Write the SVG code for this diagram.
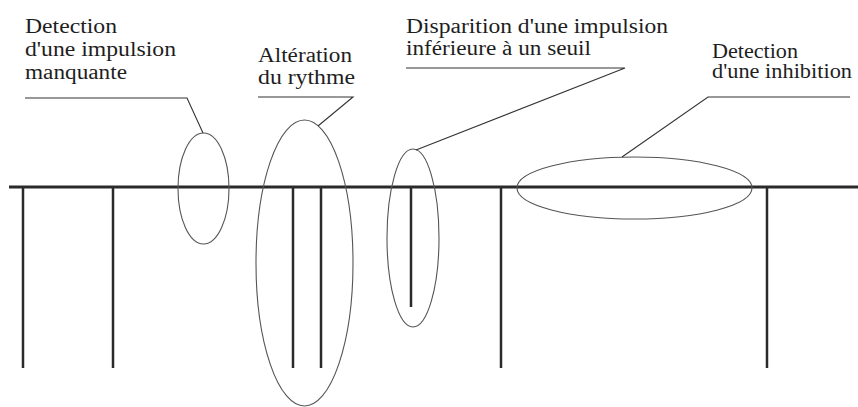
<svg xmlns="http://www.w3.org/2000/svg" width="858" height="407" viewBox="0 0 858 407">
  <style>
    .lbl { font-family: 'Liberation Serif', 'DejaVu Serif', serif; font-size: 20px; fill: #1e1e1e; }
    .axis { stroke: #2a2a2a; stroke-width: 3; fill: none; }
    .pulse { stroke: #2a2a2a; stroke-width: 2.5; fill: none; }
    .ring { stroke: #555; stroke-width: 1.1; fill: none; }
    .lead { stroke: #333; stroke-width: 1.1; fill: none; }
  </style>
  <rect width="858" height="407" fill="#ffffff"/>

  <g id="pulse-train">
    <line class="axis" x1="9" y1="187" x2="858" y2="187"/>
    <line class="pulse" x1="23" y1="187" x2="23" y2="368"/>
    <line class="pulse" x1="113" y1="187" x2="113" y2="368"/>
    <line class="pulse" x1="293" y1="187" x2="293" y2="368"/>
    <line class="pulse" x1="321" y1="187" x2="321" y2="368"/>
    <line class="pulse" x1="411" y1="187" x2="411" y2="307"/>
    <line class="pulse" x1="501" y1="187" x2="501" y2="368"/>
    <line class="pulse" x1="767" y1="187" x2="767" y2="368"/>
  </g>

  <g id="ellipse-missing">
    <ellipse class="ring" cx="203.5" cy="188.5" rx="25.5" ry="55.5"/>
  </g>
  <g id="ellipse-rhythm">
    <ellipse class="ring" cx="304.5" cy="263" rx="48.5" ry="143"/>
  </g>
  <g id="ellipse-threshold">
    <ellipse class="ring" cx="413" cy="238" rx="26" ry="89"/>
  </g>
  <g id="ellipse-inhibition">
    <ellipse class="ring" cx="634.5" cy="188" rx="117.5" ry="31"/>
  </g>

  <g id="label-missing">
    <text class="lbl" x="25" y="33" textLength="92" lengthAdjust="spacingAndGlyphs">Detection</text>
    <text class="lbl" x="25" y="56" textLength="151" lengthAdjust="spacingAndGlyphs">d'une impulsion</text>
    <text class="lbl" x="25" y="79" textLength="102" lengthAdjust="spacingAndGlyphs">manquante</text>
  </g>
  <g id="label-rhythm">
    <text class="lbl" x="258" y="62" textLength="94" lengthAdjust="spacingAndGlyphs">Altération</text>
    <text class="lbl" x="258" y="84" textLength="97" lengthAdjust="spacingAndGlyphs">du rythme</text>
  </g>
  <g id="label-threshold">
    <text class="lbl" x="406" y="33" textLength="262" lengthAdjust="spacingAndGlyphs">Disparition d'une impulsion</text>
    <text class="lbl" x="406" y="55" textLength="185" lengthAdjust="spacingAndGlyphs">inférieure à un seuil</text>
  </g>
  <g id="label-inhibition">
    <text class="lbl" x="712" y="58" textLength="86" lengthAdjust="spacingAndGlyphs">Detection</text>
    <text class="lbl" x="712" y="78" textLength="140" lengthAdjust="spacingAndGlyphs">d'une inhibition</text>
  </g>

  <g id="connectors">
    <polyline class="lead" points="25,98 187,98 203,133"/>
    <polyline class="lead" points="258,97 353,97 318,126"/>
    <polyline class="lead" points="406,68 625,68 416,150"/>
    <polyline class="lead" points="850,97 708,97 622,157"/>
  </g>
</svg>
